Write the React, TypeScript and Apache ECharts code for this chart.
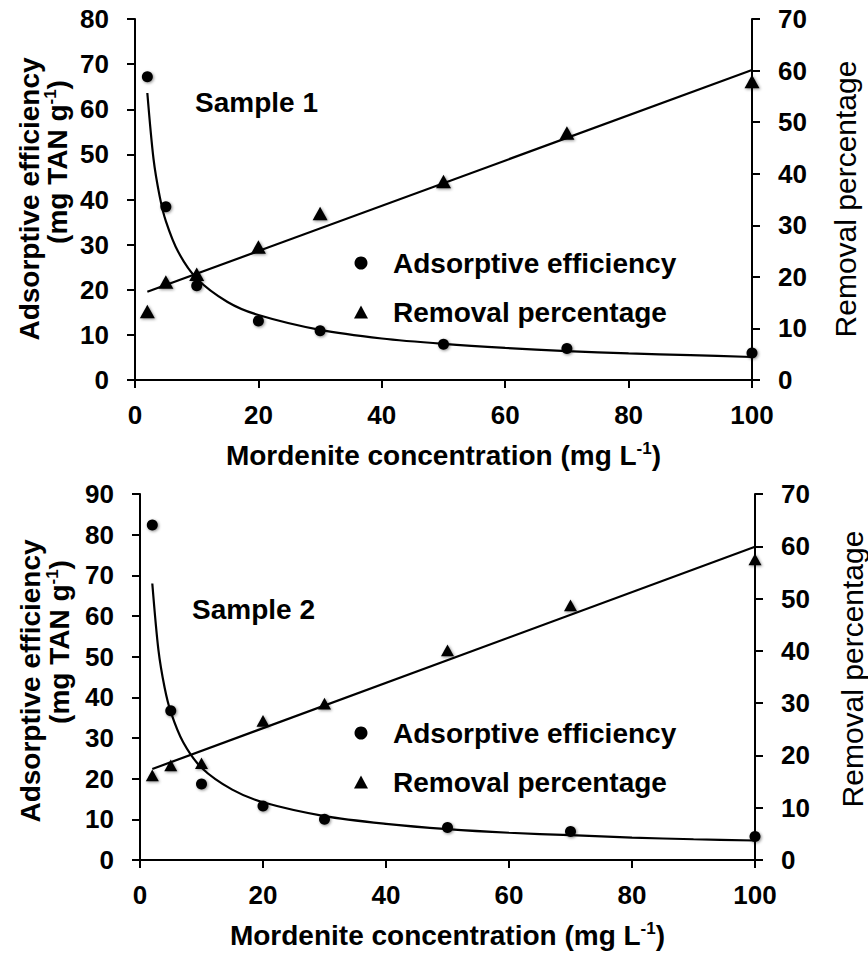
import React, { useEffect, useRef } from "react";
import * as echarts from "echarts";

const FONT = '"Liberation Sans", Arial, Helvetica, sans-serif';

// Sample 1
const conc = [2, 5, 10, 20, 30, 50, 70, 100];
const s1Adsorptive = [67.2, 38.4, 20.9, 13.1, 10.9, 7.9, 7.0, 6.0];
const s1Removal = [13.3, 19.0, 20.5, 25.8, 32.3, 38.5, 47.9, 57.9];
const fitX = [2, 3, 4, 5, 7, 10, 15, 20, 30, 40, 50, 60, 70, 80, 90, 100];
const s1PowerFit = [63.6, 49.0, 40.7, 35.2, 28.4, 22.5, 17.3, 14.4, 11.1, 9.2, 8.0, 7.1, 6.4, 5.9, 5.5, 5.1];
const linX = [2, 100];
const s1LinearFit = [17.1, 60.1];

// Sample 2
const s2Adsorptive = [82.4, 36.7, 18.7, 13.3, 10.0, 8.0, 7.0, 5.8];
const s2Removal = [16.2, 18.1, 18.5, 26.6, 29.9, 40.1, 48.7, 57.5];
const s2PowerFit = [68.0, 51.6, 42.4, 36.4, 29.0, 22.7, 17.3, 14.2, 10.8, 8.9, 7.6, 6.7, 6.1, 5.5, 5.1, 4.8];
const s2LinearFit = [17.4, 59.9];

const xTicks = { min: 0, max: 100, interval: 20 };
const s1LeftAxis = { min: 0, max: 80, interval: 10 };
const s2LeftAxis = { min: 0, max: 90, interval: 10 };
const rightAxis = { min: 0, max: 70, interval: 10 };

const pairs = (xs: number[], ys: number[]) => xs.map((x, i) => [x, ys[i]]);

const axisLine = { show: true, lineStyle: { color: "#000", width: 2 } };
const axisTick = { show: true, inside: false, length: 8, lineStyle: { color: "#000", width: 2 } };
const tickLabel = (margin: number) => ({
  color: "#000",
  fontFamily: FONT,
  fontWeight: "bold" as const,
  fontSize: 26,
  margin,
});

const supRich = {
  sup: { fontSize: 17, fontWeight: "bold" as const, fontFamily: FONT, color: "#000", verticalAlign: "top" as const, padding: [0, 0, 14, 0] },
};

const shadow = { shadowBlur: 3, shadowColor: "rgba(0,0,0,0.45)", shadowOffsetX: 1, shadowOffsetY: 1 };

export default function App() {
  const ref = useRef<HTMLDivElement>(null);
  useEffect(() => {
    if (!ref.current) return;
    const chart = echarts.init(ref.current, null, { renderer: "svg" });

    const xAxisCommon = (gridIndex: number) => ({
      type: "value" as const,
      gridIndex,
      ...xTicks,
      axisLine,
      axisTick,
      splitLine: { show: false },
      axisLabel: tickLabel(22),
      name: "Mordenite concentration (mg L{sup|-1})",
      nameLocation: "middle" as const,
      nameGap: 60,
      nameTextStyle: { color: "#000", fontFamily: FONT, fontWeight: "bold" as const, fontSize: 28, rich: supRich },
    });

    const yLeft = (gridIndex: number, range: any) => ({
      type: "value" as const,
      gridIndex,
      position: "left" as const,
      ...range,
      axisLine,
      axisTick,
      splitLine: { show: false },
      axisLabel: tickLabel(26),
    });
    const yRight = (gridIndex: number) => ({
      type: "value" as const,
      gridIndex,
      position: "right" as const,
      ...rightAxis,
      axisLine,
      axisTick,
      splitLine: { show: false },
      axisLabel: tickLabel(26),
    });

    const legend = (top: number) => ({
      orient: "vertical" as const,
      left: 349,
      top,
      itemWidth: 14,
      itemHeight: 13,
      itemGap: 21,
      selectedMode: false,
      textStyle: { color: "#000", fontFamily: FONT, fontWeight: "bold" as const, fontSize: 28, padding: [0, 0, 0, 20] },
      data: [
        { name: "Adsorptive efficiency", icon: "circle", itemStyle: { color: "#000", opacity: 1 } },
        { name: "Removal percentage", icon: "triangle", itemStyle: { color: "#000", opacity: 1 } },
      ],
      itemStyle: { color: "#000", opacity: 1 },
    });

    const leftTitle = (x1: number, y1: number, x2: number, y2: number) => [
      {
        type: "text",
        x: x1,
        y: y1,
        rotation: Math.PI / 2,
        style: { text: "Adsorptive efficiency", fill: "#000", font: `bold 28px ${FONT}`, align: "center", verticalAlign: "middle" },
      },
      {
        type: "text",
        x: x2,
        y: y2,
        rotation: Math.PI / 2,
        style: {
          text: "(mg TAN g{sup|-1})",
          fill: "#000",
          font: `bold 28px ${FONT}`,
          fontSize: 28,
          fontWeight: "bold",
          fontFamily: FONT,
          align: "center",
          verticalAlign: "middle",
          rich: supRich,
        },
      },
    ];
    const rightTitle = (x: number, y: number) => ({
      type: "text",
      x,
      y,
      rotation: Math.PI / 2,
      style: { text: "Removal percentage", fill: "#000", font: `30px ${FONT}`, align: "center", verticalAlign: "middle" },
    });
    const sampleText = (text: string, x: number, y: number) => ({
      type: "text",
      x,
      y,
      style: { text, fill: "#000", font: `bold 28px ${FONT}`, align: "left", verticalAlign: "middle" },
    });

    const circleSeries = (name: string, xi: number, yi: number, data: number[][]) => ({
      type: "scatter" as const,
      name,
      xAxisIndex: xi,
      yAxisIndex: yi,
      symbol: "circle",
      symbolSize: 11,
      itemStyle: { color: "#000", opacity: 1, ...shadow },
      data,
      z: 5,
    });
    const triSeries = (name: string, xi: number, yi: number, data: number[][], size: number) => ({
      type: "scatter" as const,
      name,
      xAxisIndex: xi,
      yAxisIndex: yi,
      symbol: "triangle",
      symbolSize: [size, size * 0.9],
      itemStyle: { color: "#000", opacity: 1, ...shadow },
      data,
      z: 5,
    });
    const fitLine = (name: string, xi: number, yi: number, data: number[][], smooth: boolean) => ({
      type: "line" as const,
      name,
      xAxisIndex: xi,
      yAxisIndex: yi,
      showSymbol: false,
      symbol: "none",
      smooth: smooth ? 0.3 : false,
      lineStyle: { color: "#000", width: 2.2 },
      data,
      z: 3,
    });

    chart.setOption({
      animation: false,
      backgroundColor: "#fff",
      grid: [
        { left: 135, top: 19, width: 617, height: 361 },
        { left: 140, top: 494, width: 615, height: 366 },
      ],
      xAxis: [xAxisCommon(0), xAxisCommon(1)],
      yAxis: [yLeft(0, s1LeftAxis), yRight(0), yLeft(1, s2LeftAxis), yRight(1)],
      legend: [legend(244), legend(714)],
      graphic: [
        ...leftTitle(29, 199, 57, 162),
        ...leftTitle(30, 681, 59, 642),
        rightTitle(845, 199),
        rightTitle(852, 669),
        sampleText("Sample 1", 195, 102),
        sampleText("Sample 2", 192, 609),
      ],
      series: [
        fitLine("fit1a", 0, 0, pairs(fitX, s1PowerFit), true),
        fitLine("fit1b", 0, 1, pairs(linX, s1LinearFit), false),
        circleSeries("Adsorptive efficiency", 0, 0, pairs(conc, s1Adsorptive)),
        triSeries("Removal percentage", 0, 1, pairs(conc, s1Removal), 15),
        fitLine("fit2a", 1, 2, pairs(fitX, s2PowerFit), true),
        fitLine("fit2b", 1, 3, pairs(linX, s2LinearFit), false),
        circleSeries("Adsorptive efficiency", 1, 2, pairs(conc, s2Adsorptive)),
        triSeries("Removal percentage", 1, 3, pairs(conc, s2Removal), 13),
      ],
    });
    return () => chart.dispose();
  }, []);
  return <div ref={ref} style={{ position: "absolute", left: 0, top: 0, width: 868, height: 958 }} />;
}
